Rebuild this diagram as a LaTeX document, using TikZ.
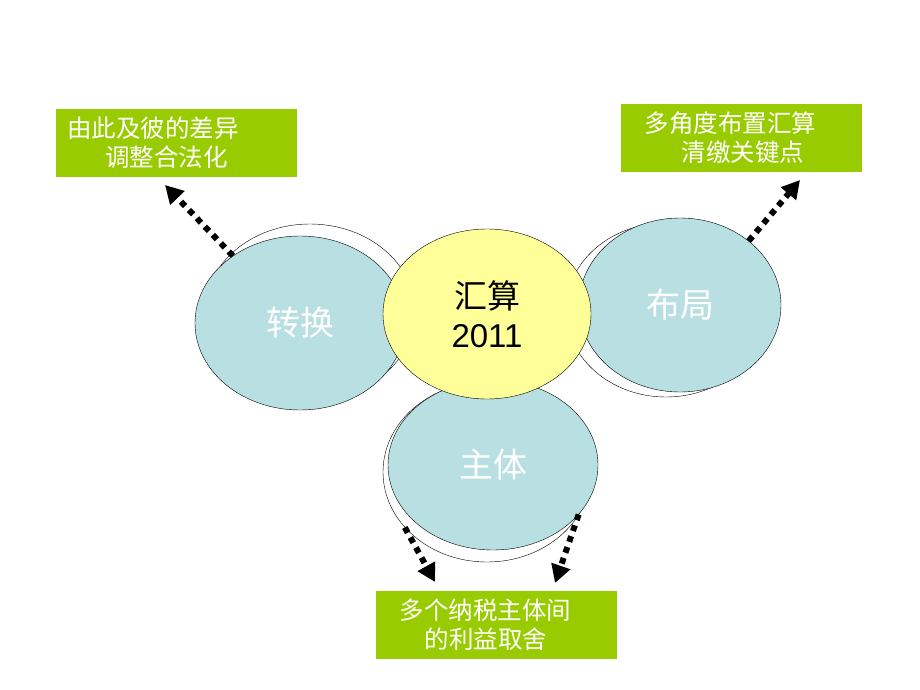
\documentclass[tikz,border=0pt]{standalone}
\usepackage{fontspec}
\setmainfont{Liberation Sans}
\newfontfamily\cjk{Noto Sans CJK SC}
\usepackage{tikz}
\usetikzlibrary{shapes.geometric,arrows.meta}
\definecolor{lakeblue}{HTML}{B8DFE1}
\definecolor{paleyellow}{HTML}{FFFF99}
\definecolor{leafgreen}{HTML}{99CC00}

\begin{document}
\begin{tikzpicture}[x=1pt, y=-1pt, semithick,
        shadow/.style = {draw, ellipse, fill=white, thin, inner sep=0pt},
        petal/.style = {draw, ellipse, fill=lakeblue, thin, inner sep=0pt, text=white, font=\cjk\fontsize{34}{38}\selectfont},
        core/.style = {draw, ellipse, fill=paleyellow, thin, inner sep=0pt, align=center, font=\fontsize{33}{39}\selectfont},
        tag/.style = {rectangle, fill=leafgreen, draw=white, text=white, minimum height=69pt, text width=218pt, inner xsep=12pt, align=left, font=\cjk\fontsize{24.5}{29}\selectfont},
        dotarrow/.style = {line width=6pt, dash pattern=on 6pt off 5.5pt, -{Triangle[length=18pt,width=19pt]}}]
        \useasboundingbox (0,0) rectangle (920,690);

        \node[shadow, minimum width=210pt, minimum height=176pt] (1o) at (310,312) {};
        \node[shadow, minimum width=200pt, minimum height=174pt] (2o) at (666,310) {};
        \node[shadow, minimum width=208pt, minimum height=180pt] (3o) at (487,472) {};

        \node[petal, minimum width=210pt, minimum height=174pt] (1) at (300,323) {转换};
        \node[petal, minimum width=202pt, minimum height=174pt] (2) at (680,305) {布局};
        \node[petal, minimum width=210pt, minimum height=170pt] (3) at (493,465) {主体};

        \node[core, minimum width=208pt, minimum height=170pt] (0) at (487,314) {{\cjk 汇算}\\2011};

        \node[tag] (4) at (176,142.5) {由此及彼的差异\\\hspace*{38pt}调整合法化};
        \node[tag] (5) at (741.5,137.5) {\hspace*{12pt}多角度布置汇算\\\hspace*{49pt}清缴关键点};
        \node[tag] (6) at (496.5,625) {\hspace*{12pt}多个纳税主体间\\\hspace*{37pt}的利益取舍};

        \coordinate (a4) at (165,185);
        \coordinate (a5) at (800,180);
        \coordinate (a6) at (435,582);
        \coordinate (b6) at (555,583);

        \draw[dotarrow] (1.135) -- (a4);
        \draw[dotarrow] (2.43) -- (a5);
        \draw[dotarrow] (3o.214) -- (a6);
        \draw[dotarrow] (3.-30) -- (b6);
    \end{tikzpicture}
\end{document}
